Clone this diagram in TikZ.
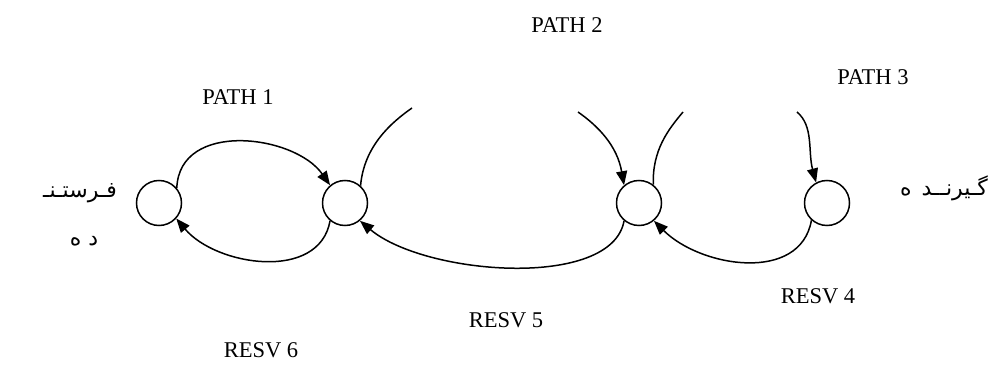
\documentclass[tikz,border=0pt]{standalone}
\usepackage{fontspec}
\setmainfont{Liberation Serif}
\newfontfamily\arabicfont[Script=Arabic]{DejaVu Sans}
\TeXXeTstate=1
\usetikzlibrary{arrows.meta}
\begin{document}
\begin{tikzpicture}[x=1pt,y=1pt,
  station/.style={circle,draw,line width=1.5pt,minimum size=45pt,inner sep=0pt},
  link/.style={line width=1.5pt,-{Triangle[length=14pt,width=11pt]}},
  plainlink/.style={line width=1.5pt},
  lbl/.style={font=\fontsize{22.5}{26}\selectfont,inner sep=0pt},
  fa/.style={font=\arabicfont\fontsize{22}{26}\selectfont,inner sep=0pt}]
\useasboundingbox (0,0) rectangle (1004,375);
\node[station] (c1) at (159,172) {};
\node[station] (c2) at (345,172) {};
\node[station] (c3) at (639,172) {};
\node[station] (c4) at (827,172) {};
\coordinate (p2a) at (412,267);
\coordinate (p2b) at (578,263);
\coordinate (p3a) at (683,263);
\coordinate (p3b) at (797,263);
% PATH arcs
\draw[link] (c1.40) .. controls +(88:68) and +(125:62) .. (c2.130);
\draw[plainlink] (c2.48) .. controls +(85:40) and +(215:25) .. (p2a);
\draw[link] (p2b) .. controls +(-35:25) and +(100:40) .. (c3.130);
\draw[plainlink] (c3.52) .. controls +(92:35) and +(230:22) .. (p3a);
\draw[link] (p3b) .. controls +(-40:22) and +(105:32) .. (c4.118);
% RESV arcs
\draw[link] (c2.230) .. controls +(-100:62) and +(-50:62) .. (c1.318);
\draw[link] (c3.230) .. controls +(-100:70) and +(-40:85) .. (c2.310);
\draw[link] (c4.228) .. controls +(-100:64) and +(-45:66) .. (c3.310);
% labels
\node[lbl] (t1) at (238,278) {PATH 1};
\node[lbl] (t2) at (567,350) {PATH 2};
\node[lbl] (t3) at (873,298) {PATH 3};
\node[lbl] (t4) at (818,79) {RESV 4};
\node[lbl] (t5) at (506,55) {RESV 5};
\node[lbl] (t6) at (261,25) {RESV 6};
\node[fa,align=center] (snd) at (80,160) {\beginR فـرستـنـ\endR\\[22pt]\hspace{8pt}\beginR د ه\endR};
\node[fa] (rcv) at (944,187) {\beginR گـیرنــد\hspace{3pt} ه\endR};
\end{tikzpicture}
\end{document}
